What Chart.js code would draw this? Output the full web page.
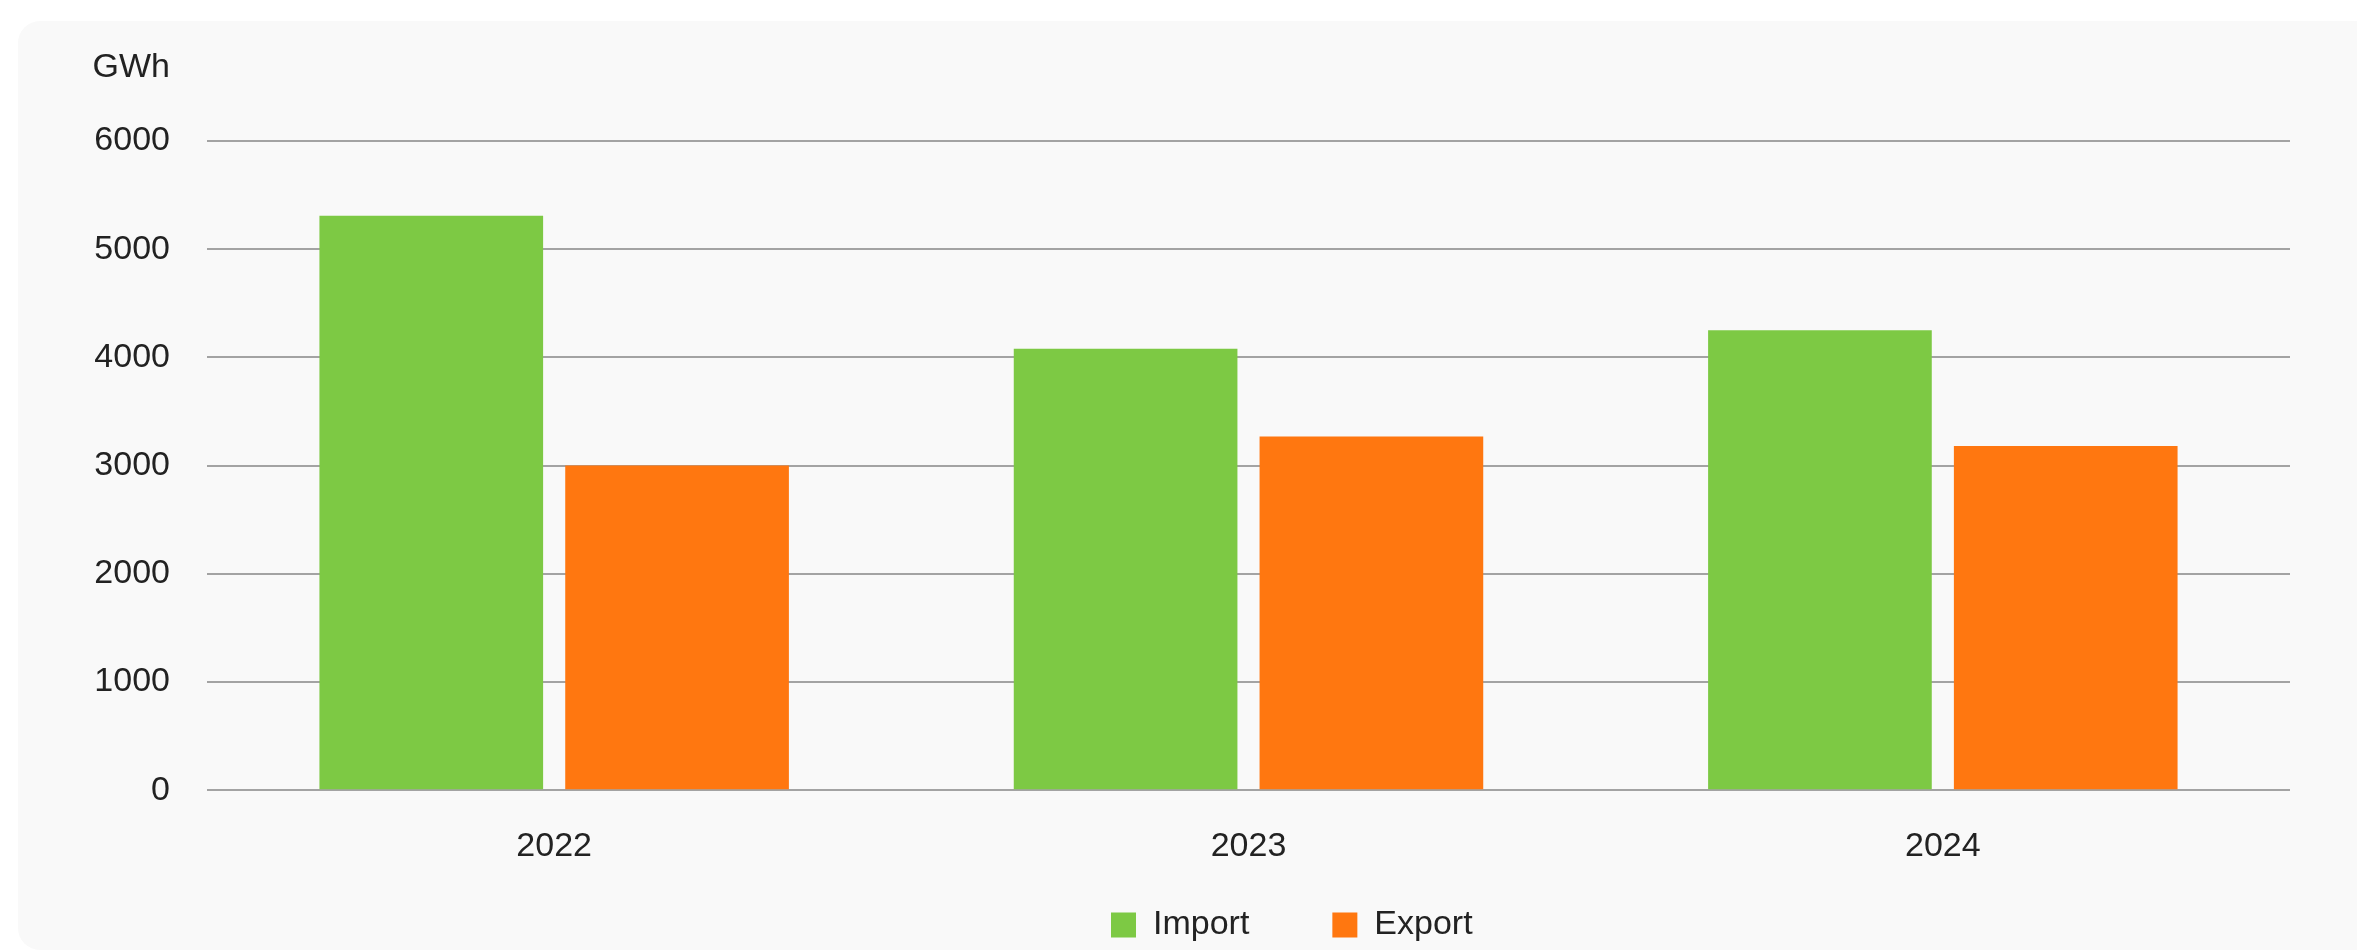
<!doctype html>
<html lang="de">
  <head>
    <meta charset="utf-8">
    <title>Import / Export GWh</title>
    <script src="https://cdn.jsdelivr.net/npm/chart.js"></script>
    <style>
      html, body { margin: 0; padding: 0; background: #fff; overflow: hidden; }
      .panel {
        position: absolute;
        left: 18px;
        top: 21px;
        width: 2339px;
        height: 929px;
        background: #f9f9f9;
        border-radius: 22px 0 0 22px;
        overflow: hidden;
      }
      canvas { display: block; }
    </style>
  </head>
  <body>

  <div class="panel">
    <canvas id="handel" width="2339" height="1009"></canvas>
  </div>

  <script>
    const years = ['2022', '2023', '2024'];
    const importValues = [5310, 4080, 4250];
    const exportValues = [3000, 3270, 3180];
    const unit = 'GWh';

    const textColor = '#222';
    const fontFamily = '"Liberation Sans", Arial, sans-serif';

    // draws the unit above the value axis
    const unitLabel = {
      id: 'unitLabel',
      afterDraw(chart) {
        const y = chart.scales.y;
        const c = chart.ctx;
        c.save();
        c.font = '34px ' + fontFamily;
        c.fillStyle = textColor;
        c.textAlign = 'right';
        c.textBaseline = 'middle';
        c.fillText(unit, y.right - 37, 47);
        c.restore();
      }
    };

    // put the legend where the original sits (first box at x=1093, box centre at y=904)
    const legendShift = {
      id: 'legendShift',
      afterLayout(chart) {
        const lg = chart.legend;
        const pad = lg.options.labels.padding;
        const cur = (lg.left + pad + lg.right - lg.lineWidths[0]) / 2;
        const dx = 1093 - cur;
        lg.left += dx; lg.right += dx;
        const h = lg.bottom - lg.top;
        lg.top = 904 - 17 - pad;
        lg.bottom = lg.top + h;
      }
    };

    const ctx = document.getElementById('handel').getContext('2d');

    const chart = new Chart(ctx, {
      type: 'bar',
      data: {
        labels: years,
        datasets: [
          {
            label: 'Import',
            data: importValues,
            backgroundColor: '#7dc944',
            categoryPercentage: 0.708,
            barPercentage: 0.91
          },
          {
            label: 'Export',
            data: exportValues,
            backgroundColor: '#ff7710',
            categoryPercentage: 0.708,
            barPercentage: 0.91
          }
        ]
      },
      options: {
        responsive: false,
        animation: false,
        devicePixelRatio: 1,
        layout: {
          padding: { top: 120, right: 67, bottom: 0, left: 0 }
        },
        scales: {
          x: {
            grid: { display: false, drawTicks: false },
            border: { display: false },
            ticks: {
              padding: 36,
              color: textColor,
              font: { family: fontFamily, size: 34 }
            }
          },
          y: {
            min: 0,
            max: 6000,
            afterFit(scale) { scale.width = 189; },
            grid: { color: '#a3a3a3', lineWidth: 2, drawTicks: false },
            border: { display: false },
            ticks: {
              stepSize: 1000,
              padding: 37,
              color: textColor,
              font: { family: fontFamily, size: 34 },
              callback: (v) => String(v)
            }
          }
        },
        plugins: {
          legend: {
            position: 'bottom',
            labels: {
              boxWidth: 25,
              boxHeight: 25,
              padding: 83,
              color: textColor,
              font: { family: fontFamily, size: 34 }
            }
          },
          tooltip: { enabled: false }
        }
      },
      plugins: [unitLabel, legendShift]
    });
  </script>

  </body>
</html>
